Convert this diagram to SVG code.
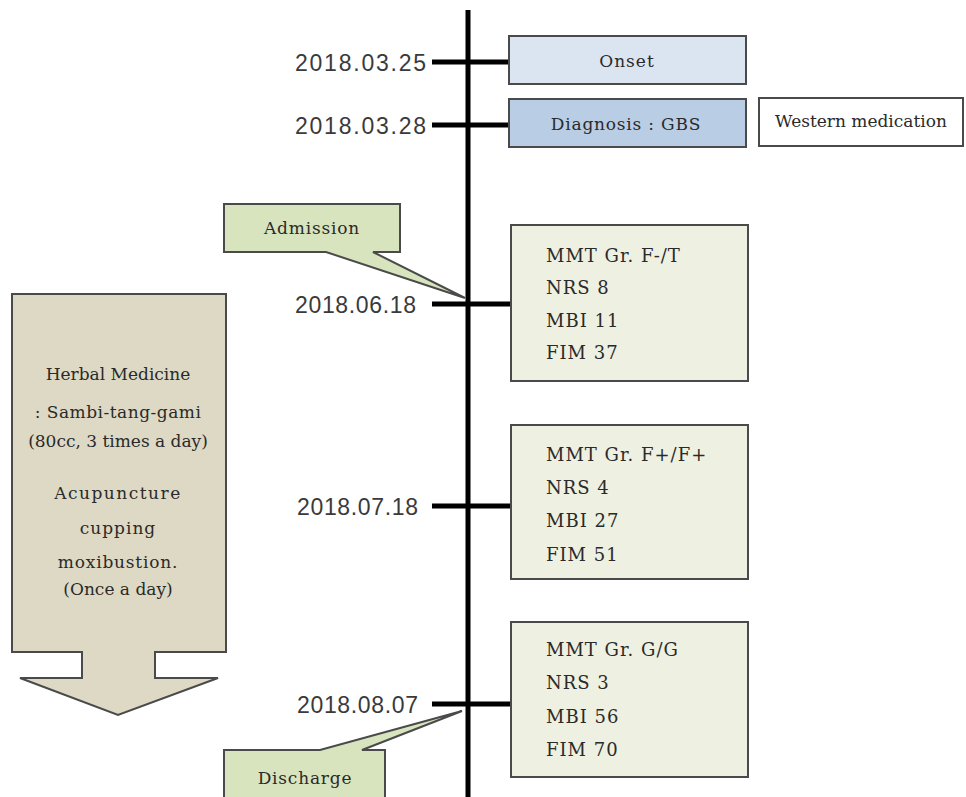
<svg xmlns="http://www.w3.org/2000/svg" width="966" height="797" viewBox="0 0 966 797">
<style>
.date{font-family:"Liberation Sans",Arial,sans-serif;font-size:23px;fill:#3a3a3a;text-anchor:end}
.lbl{font-family:"DejaVu Serif","Liberation Serif",serif;font-size:17px;fill:#2a2a2a}
.mid{text-anchor:middle}
.box{stroke:#4a4a4a;stroke-width:2}
.tick{stroke:#000;stroke-width:5}
.stat{font-family:"DejaVu Serif","Liberation Serif",serif;font-size:18px;fill:#2a2a2a;letter-spacing:1px}
</style>
<rect width="966" height="797" fill="#fff"/>
<g id="connectors">
<line x1="468" y1="10" x2="468" y2="797" stroke="#000" stroke-width="5"/>
<line class="tick" x1="432" y1="62" x2="509" y2="62"/>
<line class="tick" x1="432" y1="125" x2="509" y2="125"/>
<line class="tick" x1="432" y1="304" x2="511" y2="304"/>
<line class="tick" x1="432" y1="506" x2="511" y2="506"/>
<line class="tick" x1="432" y1="704" x2="511" y2="704"/>
</g>
<g id="d1"><text class="date" x="426" y="71" textLength="131">2018.03.25</text></g>
<g id="d2"><text class="date" x="426" y="134" textLength="131">2018.03.28</text></g>
<g id="d3"><text class="date" x="416" y="313" textLength="121">2018.06.18</text></g>
<g id="d4"><text class="date" x="418" y="515" textLength="121">2018.07.18</text></g>
<g id="d5"><text class="date" x="418" y="713" textLength="121">2018.08.07</text></g>
<g id="onset">
<rect class="box" x="509" y="36" width="237" height="48" fill="#dbe5f1"/>
<text class="lbl mid" x="627" y="67" font-size="18" letter-spacing="1">Onset</text>
</g>
<g id="diagnosis">
<rect class="box" x="509" y="99" width="237" height="48" fill="#b9cde5"/>
<text class="lbl mid" x="626" y="130" font-size="18" letter-spacing="0.8">Diagnosis : GBS</text>
</g>
<g id="western">
<rect class="box" x="759" y="98" width="204" height="48" fill="#fff"/>
<text class="lbl mid" x="861" y="127" font-size="14.5">Western medication</text>
</g>
<g id="admission">
<path class="box" d="M224,204 H400 V252 H373 L465,298 L326,252 H224 Z" fill="#d7e4bd"/>
<text class="lbl mid" x="312" y="234" font-size="18" letter-spacing="0.8">Admission</text>
</g>
<g id="discharge">
<path class="box" d="M224,750 H320 L462,711 L362,750 H385 V800 H224 Z" fill="#d7e4bd"/>
<text class="lbl mid" x="305" y="784" font-size="18" letter-spacing="0.8">Discharge</text>
</g>
<g id="s1">
<rect class="box" x="511" y="225" width="237" height="156" fill="#eef0e1"/>
<text class="stat" x="546" y="262">MMT Gr. F-/T</text>
<text class="stat" x="546" y="294">NRS 8</text>
<text class="stat" x="546" y="327">MBI 11</text>
<text class="stat" x="546" y="359">FIM 37</text>
</g>
<g id="s2">
<rect class="box" x="511" y="425" width="237" height="154" fill="#eef0e1"/>
<text class="stat" x="546" y="461">MMT Gr. F+/F+</text>
<text class="stat" x="546" y="494">NRS 4</text>
<text class="stat" x="546" y="527">MBI 27</text>
<text class="stat" x="546" y="561">FIM 51</text>
</g>
<g id="s3">
<rect class="box" x="511" y="622" width="237" height="155" fill="#eef0e1"/>
<text class="stat" x="546" y="656">MMT Gr. G/G</text>
<text class="stat" x="546" y="689">NRS 3</text>
<text class="stat" x="546" y="723">MBI 56</text>
<text class="stat" x="546" y="756">FIM 70</text>
</g>
<g id="treatment">
<path class="box" d="M12,294 H226 V652 H155 V678 H218 L118,715 L20,678 H82 V652 H12 Z" fill="#ddd9c4"/>
<text class="lbl mid" x="118" y="380" font-size="19.5">Herbal Medicine</text>
<text class="lbl mid" x="118" y="418" font-size="19" letter-spacing="0.5">: Sambi-tang-gami</text>
<text class="lbl mid" x="118" y="447" font-size="11.5">(80cc, 3 times a day)</text>
<text class="lbl mid" x="118" y="499" font-size="19" letter-spacing="1.5">Acupuncture</text>
<text class="lbl mid" x="118" y="534" font-size="19" letter-spacing="1">cupping</text>
<text class="lbl mid" x="118" y="568" font-size="19" letter-spacing="0.8">moxibustion.</text>
<text class="lbl mid" x="118" y="595" font-size="12">(Once a day)</text>
</g>
</svg>
